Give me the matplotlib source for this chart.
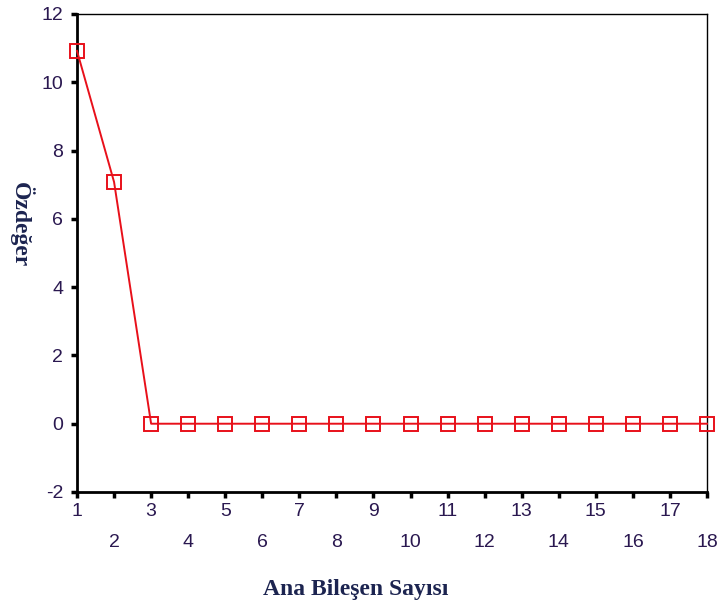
import numpy as np
import matplotlib
matplotlib.use("Agg")
import matplotlib.pyplot as plt

# scree plot values
components = list(range(1, 19))
eigenvalues = [10.92, 7.08] + [0.0] * 16

odd_ticks = [1, 3, 5, 7, 9, 11, 13, 15, 17]
even_ticks = [2, 4, 6, 8, 10, 12, 14, 16, 18]
y_ticks = [-2, 0, 2, 4, 6, 8, 10, 12]

tick_color = "#2a1850"
label_color = "#1c2450"

fig = plt.figure(figsize=(7.2, 6.07), dpi=100)
ax = fig.add_axes([77/720, 1 - 492/607, 630/720, 478/607])

ax.plot(components, eigenvalues, color="#e8101a", lw=1.4, marker="s",
        markersize=10, markerfacecolor="none", markeredgecolor="#e8101a",
        markeredgewidth=1.4, clip_on=False, zorder=3)

ax.set_xlim(1, 18)
ax.set_ylim(-2, 12)

ax.set_xticks(odd_ticks)
ax.set_xticks(even_ticks, minor=True)
ax.set_xticklabels([str(t) for t in odd_ticks])
ax.set_xticklabels([str(t) for t in even_ticks], minor=True)
ax.set_yticks(y_ticks)
ax.set_yticklabels([str(t) for t in y_ticks])

ax.tick_params(axis="x", which="major", direction="out", length=4, width=2.5,
               pad=4, labelsize=14, labelcolor=tick_color)
ax.tick_params(axis="x", which="minor", direction="out", length=4, width=2.5,
               pad=26, labelsize=14, labelcolor=tick_color)
ax.tick_params(axis="y", direction="out", length=4, width=2.5, pad=6,
               labelsize=14, labelcolor=tick_color)
for lab in ax.get_xticklabels() + ax.get_xticklabels(minor=True) + ax.get_yticklabels():
    lab.set_family(["Liberation Sans", "DejaVu Sans"])

ax.spines["left"].set_linewidth(2)
ax.spines["bottom"].set_linewidth(2)
ax.spines["top"].set_linewidth(1)
ax.spines["right"].set_linewidth(1)

ax.set_xlabel("Ana Bileşen Sayısı", fontsize=17, fontweight="bold",
              family=["Liberation Serif", "DejaVu Serif"], color=label_color,
              va="center", ha="center")
ax.set_ylabel("Özdeğer", fontsize=17, fontweight="bold", rotation=270,
              family=["Liberation Serif", "DejaVu Serif"], color=label_color,
              va="center", ha="center")
ax.xaxis.set_label_coords(0.443, -0.205)
ax.yaxis.set_label_coords(-0.089, 0.559)

fig.savefig("out.png", dpi=100)
